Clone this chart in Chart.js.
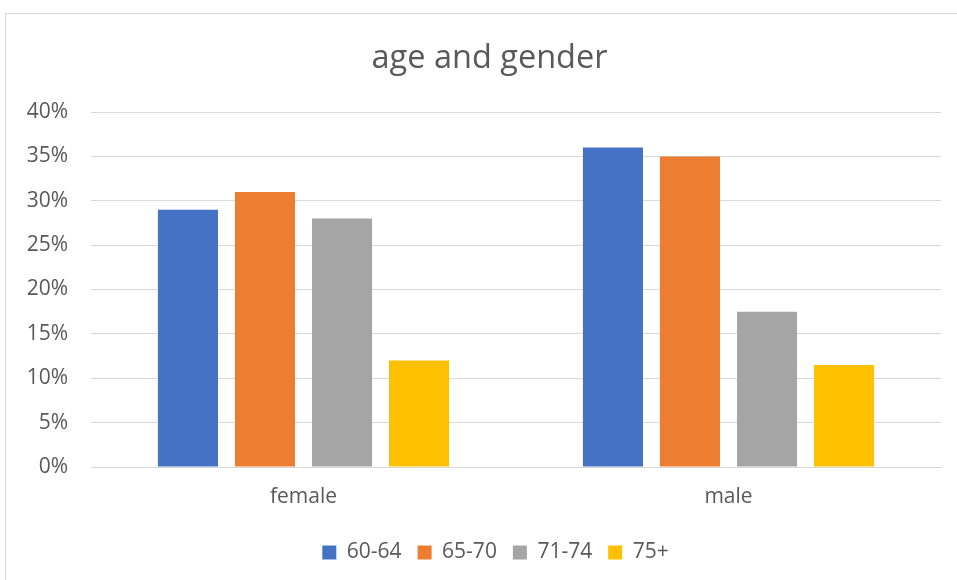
<!DOCTYPE html>
<html>
<head>
<meta charset="utf-8">
<script src="https://cdn.jsdelivr.net/npm/chart.js@4"></script>
<style>
body { margin: 0; background: #fff; overflow: hidden; }
#frame { position: absolute; left: 5px; top: 13px; width: 960px; height: 580px; border: 1px solid #d9d9d9; }
#c { position: absolute; left: 0; top: 0; }
</style>
</head>
<body>
<div id="frame"></div>
<canvas id="c" width="957" height="580"></canvas>
<script>
var categories = ['female', 'male'];
var seriesNames = ['60-64', '65-70', '71-74', '75+'];
var age6064 = [29, 36];
var age6570 = [31, 35];
var age7174 = [28, 17.5];
var age75plus = [12, 11.5];
var yTicks = [0, 5, 10, 15, 20, 25, 30, 35, 40];

var colors = ['#4472C4', '#ED7D31', '#A5A5A5', '#FFC000'];
var values = [age6064, age6570, age7174, age75plus];

var datasets = [];
for (var i in seriesNames) {
    datasets.push({
        label: seriesNames[i],
        data: values[i],
        backgroundColor: colors[i],
        borderWidth: 0,
        categoryPercentage: 0.725,
        barPercentage: 0.78
    });
}

var textColor = '#595959';
var font = '"Open Sans", sans-serif';

// excel centres title and legend on a slightly wider chart area
var shiftBlocks = {
    id: 'shiftBlocks',
    afterLayout: function(chart) {
        chart.titleBlock.left += 19;
        chart.titleBlock.right += 19;
        chart.legend.left += 25;
        chart.legend.right += 25;
    }
};

var ctx = document.getElementById('c');
var chart = new Chart(ctx, {
    type: 'bar',
    data: {
        labels: categories,
        datasets: datasets
    },
    plugins: [shiftBlocks],
    options: {
        responsive: false,
        animation: false,
        devicePixelRatio: 1,
        layout: { padding: { left: 0, right: 16, top: 0, bottom: 7 } },
        plugins: {
            title: {
                display: true,
                text: 'age and gender',
                color: textColor,
                font: { family: font, size: 32.5, weight: 'normal' },
                padding: { top: 39, bottom: 34 }
            },
            legend: {
                position: 'bottom',
                labels: {
                    color: textColor,
                    font: { family: font, size: 21 },
                    boxWidth: 14,
                    boxHeight: 14,
                    padding: 16
                }
            },
            tooltip: { enabled: false }
        },
        scales: {
            x: {
                grid: { display: false, drawTicks: false },
                border: { display: true, color: '#d9d9d9', width: 1 },
                ticks: { color: textColor, font: { family: font, size: 21 }, padding: 17 },
                afterFit: function(scale) { scale.height = 59; }
            },
            y: {
                min: 0,
                max: 40,
                afterBuildTicks: function(scale) {
                    scale.ticks = yTicks.map(function(v) { return { value: v }; });
                },
                grid: { color: '#d9d9d9', lineWidth: 1, drawTicks: false },
                border: { display: false },
                ticks: {
                    color: textColor,
                    font: { family: font, size: 21 },
                    padding: 23,
                    callback: function(v) { return v + '%'; }
                },
                afterFit: function(scale) { scale.width = 91; }
            }
        }
    }
});
</script>
</body>
</html>
